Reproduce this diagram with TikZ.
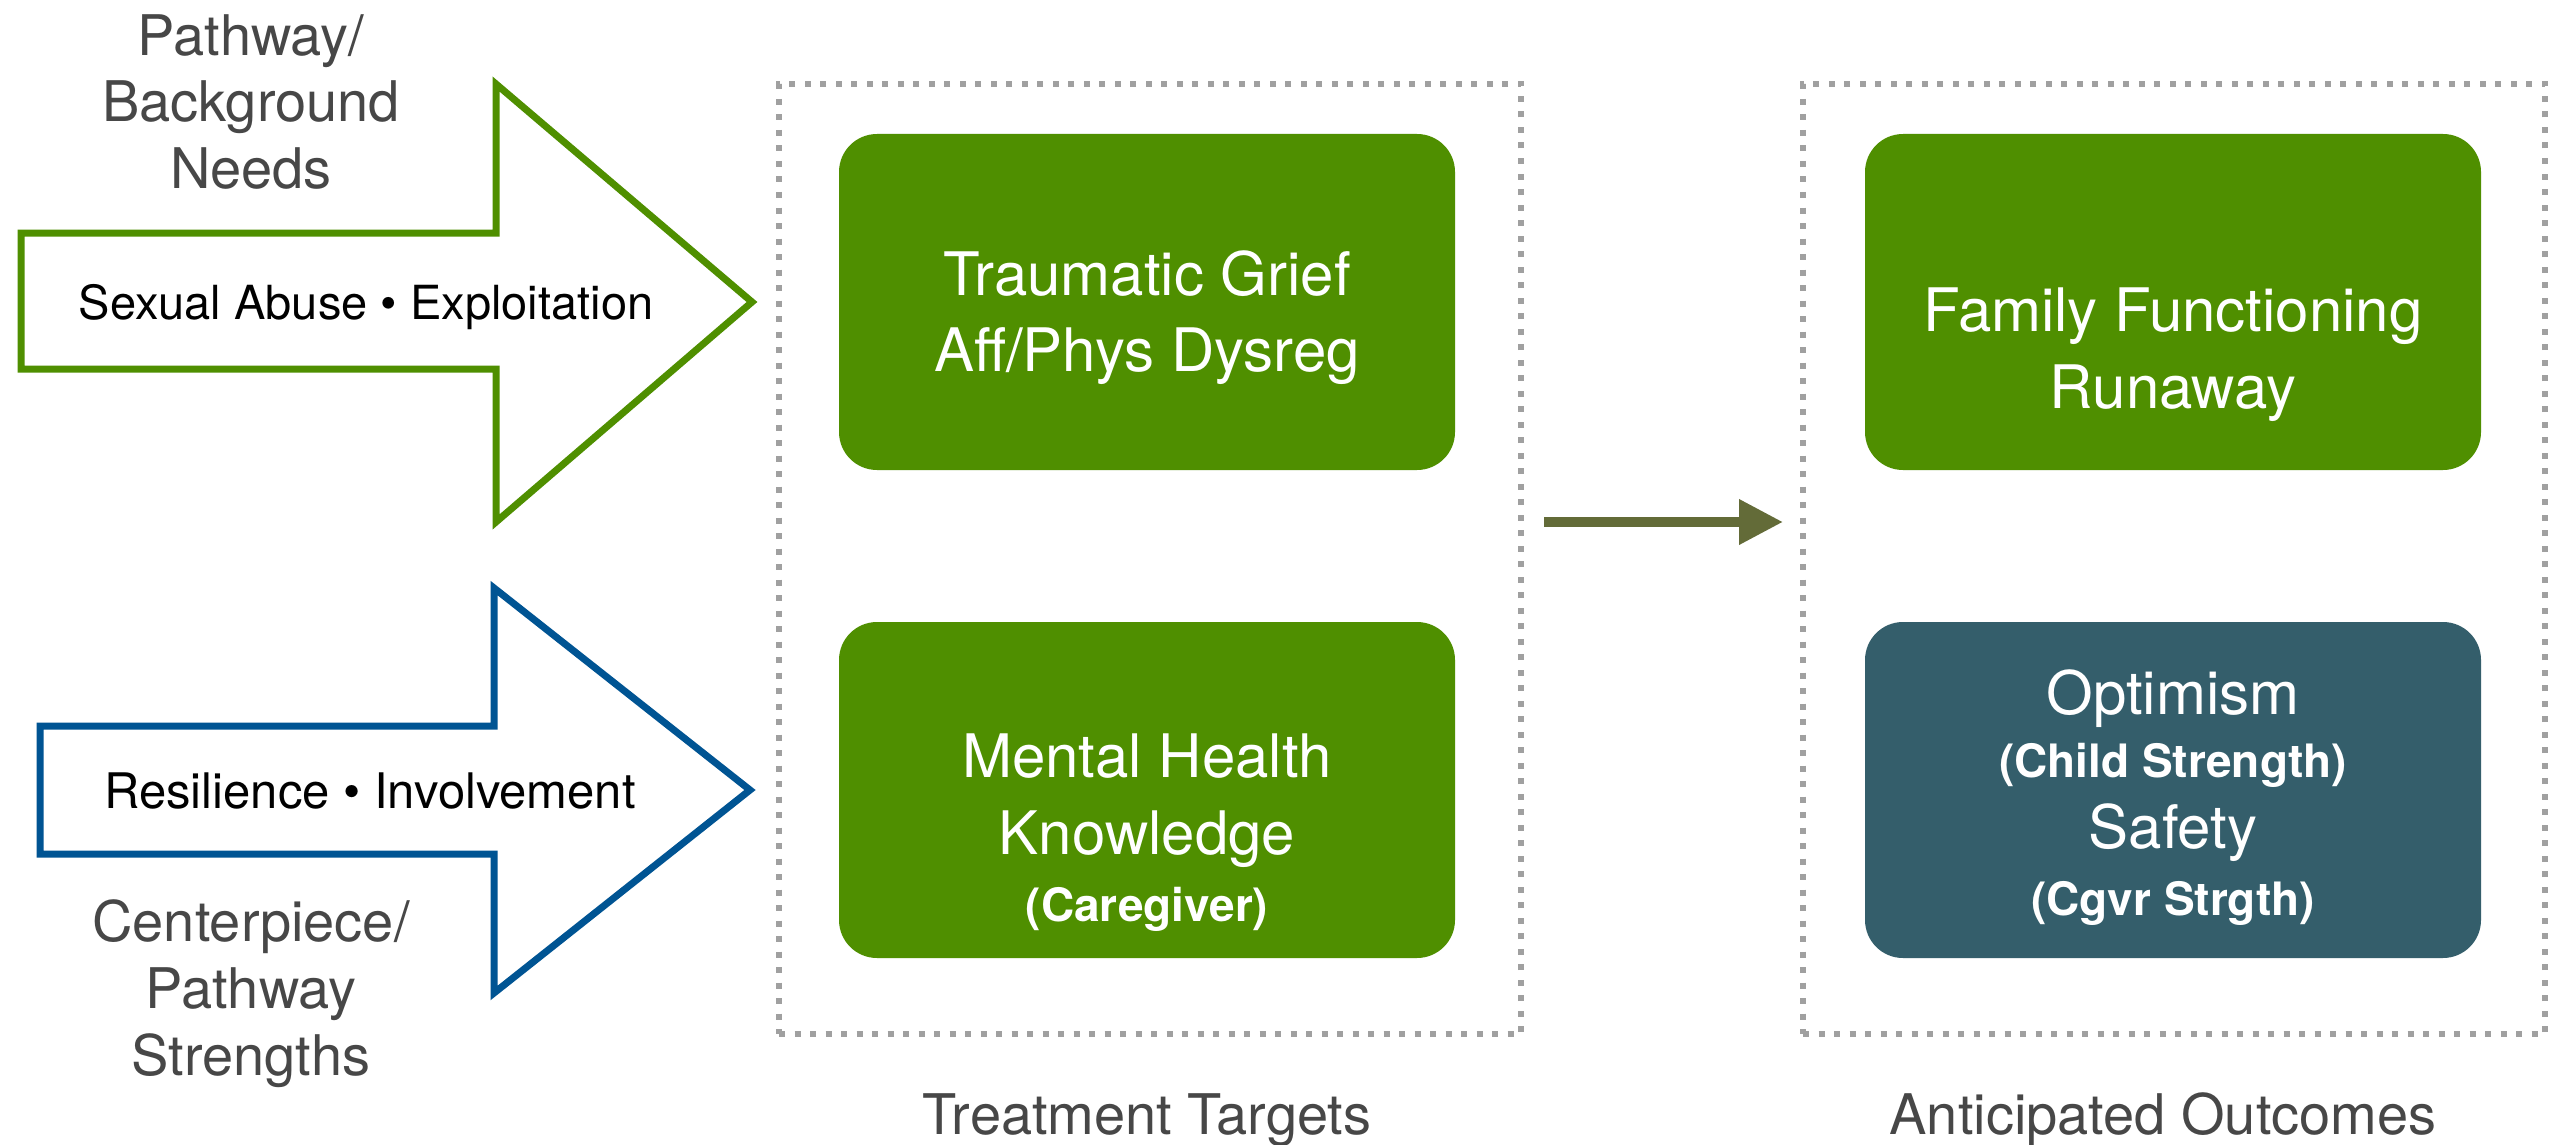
\documentclass[tikz,border=0pt]{standalone}
\usepackage{fontspec}
\setmainfont{TeX Gyre Heros}
\usetikzlibrary{arrows.meta,calc}
\definecolor{grn}{RGB}{79,143,0}
\definecolor{blu}{RGB}{0,84,147}
\definecolor{tealbox}{RGB}{52,94,107}
\definecolor{olivearr}{RGB}{99,107,56}
\definecolor{gtxt}{RGB}{71,71,71}
\definecolor{dotg}{RGB}{160,160,160}
\begin{document}
\begin{tikzpicture}[x=1pt,y=-1pt,
  rbox/.style={rounded corners=38pt, inner sep=0pt, draw=none, minimum width=616pt, minimum height=336pt},
  dotbox/.style={draw=dotg, line width=6pt, dash pattern=on 6pt off 9.5pt, inner sep=0pt, minimum width=742pt, minimum height=950pt},
  btxt/.style={anchor=base, text=white, inner sep=0pt, font=\fontsize{60}{72}\selectfont},
  bbold/.style={anchor=base, text=white, inner sep=0pt, font=\fontsize{46}{55}\selectfont\bfseries},
  gray lbl/.style={anchor=base, text=gtxt, inner sep=0pt, font=\fontsize{56}{67}\selectfont},
  arrtxt/.style={anchor=base, text=black, inner sep=0pt},
  bigarrow/.style={line width=7pt, line join=miter},
  midarr/.style={draw=olivearr, line width=10pt, -{Triangle[length=44pt,width=43pt]}}
]
\fill[white] (0,0) rectangle (2560,1145);
\useasboundingbox (0,0) rectangle (2560,1145);

% left labels
\node[gray lbl] (pb1) at (251,56) {Pathway/};
\node[gray lbl] (pb2) at (251,122) {Background};
\node[gray lbl] (pb3) at (251,188) {Needs};
\node[gray lbl] (cp1) at (251,941) {Centerpiece/};
\node[gray lbl] (cp2) at (251,1008) {Pathway};
\node[gray lbl] (cp3) at (251,1075) {Strengths};

% big outlined arrows
\draw[bigarrow, draw=grn] (21,233) -- (496,233) -- (496,84) -- (752,302) -- (496,522) -- (496,369) -- (21,369) -- cycle;
\node[arrtxt, font=\fontsize{47}{56}\selectfont] (sa) at (366,319) {Sexual Abuse • Exploitation};
\draw[bigarrow, draw=blu] (40,726) -- (494,726) -- (494,588) -- (750,790) -- (494,993) -- (494,854) -- (40,854) -- cycle;
\node[arrtxt, font=\fontsize{49}{58}\selectfont] (ri) at (370,808) {Resilience • Involvement};

% dotted group boxes
\node[dotbox] (tt) at (1150,559) {};
\node[dotbox] (ao) at (2174,559) {};
\node[gray lbl] (ttl) at (1147,1134) {Treatment Targets};
\node[gray lbl] (aol) at (2163,1134) {Anticipated Outcomes};

% treatment target boxes
\node[rbox, fill=grn] (tg) at (1147,302) {};
\node[btxt] (tg1) at (1147,295) {Traumatic Grief};
\node[btxt] (tg2) at (1147,371) {Aff/Phys Dysreg};
\node[rbox, fill=grn] (mh) at (1147,790) {};
\node[btxt] (mh1) at (1147,777) {Mental Health};
\node[btxt] (mh2) at (1147,854) {Knowledge};
\node[bbold] (mh3) at (1147,921) {(Caregiver)};

% outcome boxes
\node[rbox, fill=grn] (ff) at (2173,302) {};
\node[btxt] (ff1) at (2173,331) {Family Functioning};
\node[btxt] (ff2) at (2173,408) {Runaway};
\node[rbox, fill=tealbox] (op) at (2173,790) {};
\node[btxt] (op1) at (2173,714) {Optimism};
\node[bbold] (op2) at (2173,777) {(Child Strength)};
\node[btxt] (op3) at (2173,848) {Safety};
\node[bbold] (op4) at (2173,915) {(Cgvr Strgth)};

% connector between groups
\coordinate (mid) at (0,522);
\draw[midarr] ($(tt.east |- mid)+(20,0)$) -- ($(ao.west |- mid)+(-17,0)$);
\end{tikzpicture}
\end{document}
